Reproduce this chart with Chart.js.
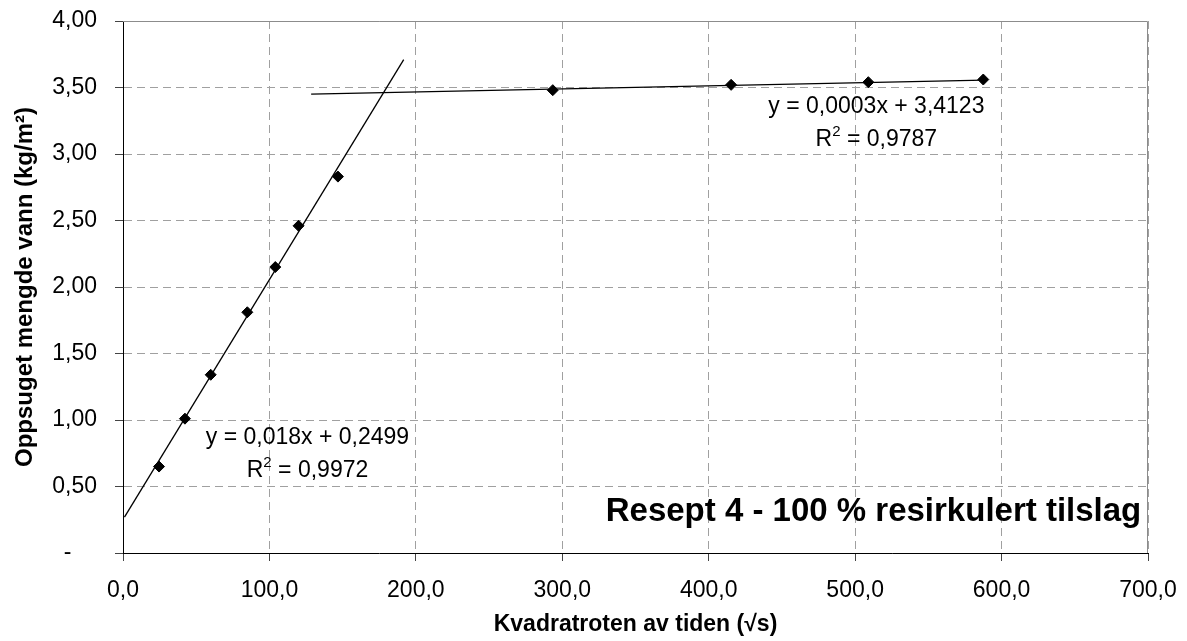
<!DOCTYPE html>
<html>
<head>
<meta charset="utf-8">
<script src="https://cdn.jsdelivr.net/npm/chart.js@4"></script>
<style>
  html, body { margin: 0; padding: 0; background: #fff; }
  #wrap { width: 1187px; height: 641px; position: relative; }
</style>
</head>
<body>
<div id="wrap"><canvas id="vannChart"></canvas></div>
<script>
// maalepunkter: kvadratroten av tiden (x) og oppsuget vann (y)
const tidX  = [24.6, 42.3, 59.9, 84.9, 104.0, 119.9, 146.8, 293.5, 415.3, 509.0, 587.5];
const vannY = [0.65, 1.01, 1.34, 1.81, 2.15, 2.46, 2.83, 3.48, 3.52, 3.54, 3.56];

// trendlinjer (endepunkter lest av figuren)
const trend1X = [1.0, 191.7];
const trend1Y = [0.27, 3.71];
const trend2X = [128.5, 588.0];
const trend2Y = [3.45, 3.556];

// akser
const xTicks = [0, 100, 200, 300, 400, 500, 600, 700];
const xTickLabels = ['0,0', '100,0', '200,0', '300,0', '400,0', '500,0', '600,0', '700,0'];
const yTicks = [0, 0.5, 1, 1.5, 2, 2.5, 3, 3.5, 4];
const yTickLabels = ['-\u2007\u2007', '0,50', '1,00', '1,50', '2,00', '2,50', '3,00', '3,50', '4,00'];

// tekster
const eq1 = { linje: 'y = 0,018x + 0,2499', r2: '0,9972', x: 126, y1: 0.87, y2: 0.62 };
const eq2 = { linje: 'y = 0,0003x + 3,4123', r2: '0,9787', x: 514.5, y1: 3.356, y2: 3.105 };
const tittel = 'Resept 4 - 100 % resirkulert tilslag';

const fonte = "'Liberation Sans', Arial, sans-serif";

function punkter(xs, ys) {
    return xs.map((x, i) => ({ x: x, y: ys[i] }));
}

// ramme + tekster i plottet
const tekstPlugin = {
    id: 'tekster',
    afterDatasetsDraw(chart) {
        const ctx = chart.ctx;
        const sx = chart.scales.x, sy = chart.scales.y;
        const a = chart.chartArea;
        ctx.save();
        // graa ramme oppe og til hoyre
        ctx.strokeStyle = '#8c8c8c';
        ctx.lineWidth = 1;
        ctx.beginPath();
        ctx.moveTo(a.left, a.top + 0.5);
        ctx.lineTo(a.right - 0.5, a.top + 0.5);
        ctx.lineTo(a.right - 0.5, a.bottom);
        ctx.stroke();

        ctx.fillStyle = '#000';
        ctx.textBaseline = 'middle';

        function likning(e) {
            const cx = sx.getPixelForValue(e.x);
            ctx.font = '23px ' + fonte;
            ctx.textAlign = 'center';
            ctx.fillText(e.linje, cx, sy.getPixelForValue(e.y1));
            // R^2 linje
            const rest = ' = ' + e.r2;
            const wR = ctx.measureText('R').width;
            const wRest = ctx.measureText(rest).width;
            ctx.font = '15px ' + fonte;
            const w2 = ctx.measureText('2').width;
            const tot = wR + w2 + wRest;
            let px = cx - tot / 2;
            const py = sy.getPixelForValue(e.y2);
            ctx.textAlign = 'left';
            ctx.font = '23px ' + fonte;
            ctx.fillText('R', px, py);
            ctx.font = '15px ' + fonte;
            ctx.fillText('2', px + wR, py - 8);
            ctx.font = '23px ' + fonte;
            ctx.fillText(rest, px + wR + w2, py);
        }
        likning(eq1);
        likning(eq2);

        ctx.font = 'bold 33px ' + fonte;
        ctx.textAlign = 'right';
        ctx.fillText(tittel, sx.getPixelForValue(695.4), sy.getPixelForValue(0.308));
        ctx.restore();
    }
};

const gridStil = {
    color: '#a0a0a0',
    tickLength: 8,
    tickColor: '#444',
    tickBorderDash: []
};

const ctx = document.getElementById('vannChart').getContext('2d');
new Chart(ctx, {
    type: 'scatter',
    data: {
        datasets: [
            {
                label: 'Målinger',
                data: punkter(tidX, vannY),
                pointStyle: 'rectRot',
                pointRadius: 5.5,
                pointBackgroundColor: '#000',
                pointBorderColor: '#000',
                pointBorderWidth: 1,
                showLine: false,
                order: 0
            },
            {
                label: 'Trend 1',
                data: punkter(trend1X, trend1Y),
                showLine: true,
                borderColor: '#000',
                borderWidth: 1.3,
                pointRadius: 0,
                order: 1
            },
            {
                label: 'Trend 2',
                data: punkter(trend2X, trend2Y),
                showLine: true,
                borderColor: '#000',
                borderWidth: 1.3,
                pointRadius: 0,
                order: 1
            }
        ]
    },
    options: {
        responsive: true,
        maintainAspectRatio: false,
        animation: false,
        layout: {
            padding: { left: 0, top: 21, right: 39, bottom: 0 }
        },
        plugins: {
            legend: { display: false },
            tooltip: { enabled: false }
        },
        scales: {
            x: {
                type: 'linear',
                min: 0,
                max: 700,
                afterBuildTicks: (s) => { s.ticks = xTicks.map(v => ({ value: v })); },
                afterFit: (s) => { s.height = 88; s.paddingLeft = 0; s.paddingRight = 0; },
                grid: gridStil,
                border: { color: '#000', width: 1, dash: [8, 5] },
                ticks: {
                    color: '#000',
                    padding: 16,
                    maxRotation: 0,
                    font: { family: fonte, size: 23 },
                    callback: (v) => xTickLabels[xTicks.indexOf(v)]
                },
                title: {
                    display: true,
                    text: 'Kvadratroten av tiden (√s)',
                    color: '#000',
                    font: { family: fonte, size: 23, weight: 'bold' },
                    padding: { top: 0, bottom: 3 }
                }
            },
            y: {
                type: 'linear',
                min: 0,
                max: 4,
                afterBuildTicks: (s) => { s.ticks = yTicks.map(v => ({ value: v })); },
                afterFit: (s) => { s.width = 123; s.paddingTop = 0; s.paddingBottom = 0; },
                grid: gridStil,
                border: { color: '#000', width: 1, dash: [8, 5] },
                ticks: {
                    color: '#000',
                    padding: 18,
                    font: { family: fonte, size: 23 },
                    callback: (v) => yTickLabels[yTicks.indexOf(v)]
                },
                title: {
                    display: true,
                    text: 'Oppsuget mengde vann (kg/m²)',
                    color: '#000',
                    font: { family: fonte, size: 24, weight: 'bold' },
                    padding: { top: 11, bottom: 0 }
                }
            }
        }
    },
    plugins: [tekstPlugin]
});
</script>
</body>
</html>
